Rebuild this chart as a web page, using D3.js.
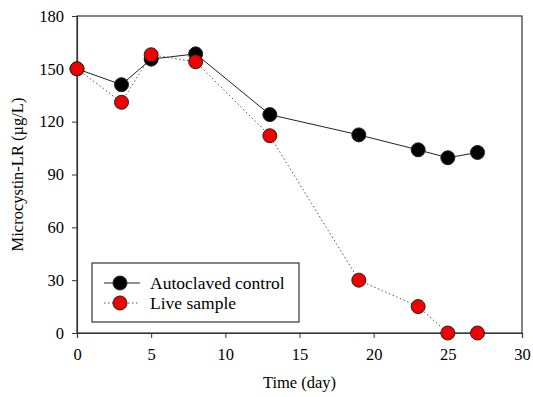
<!DOCTYPE html>
<html>
<head>
<meta charset="utf-8">
<script src="https://cdn.jsdelivr.net/npm/d3@7"></script>
<style>
  body { margin: 0; background: #fff; }
</style>
</head>
<body>
<svg id="chart" width="533" height="397"></svg>
<script>
const days = [0, 3, 5, 8, 13, 19, 23, 25, 27];
const autoclaved = [150, 141, 155.5, 158.5, 124, 112.5, 104, 99.5, 102.5];
const live = [150, 131, 158, 154, 112, 30, 15, 0, 0];
const xTicks = [0, 5, 10, 15, 20, 25, 30];
const yTicks = [0, 30, 60, 90, 120, 150, 180];

const serif = "'Liberation Serif', 'Times New Roman', serif";
const svg = d3.select("#chart").attr("font-family", serif);
const margin = { top: 16, right: 11, bottom: 64, left: 77 };
const width = 533 - margin.left - margin.right;
const height = 397 - margin.top - margin.bottom;

const g = svg.append("g").attr("transform", `translate(${margin.left},${margin.top})`);

const x = d3.scaleLinear().domain([0, 30]).range([0, width]);
const y = d3.scaleLinear().domain([0, 180]).range([height, 0]);

// frame
g.append("rect")
    .attr("width", width).attr("height", height)
    .attr("fill", "none").attr("stroke", "#333").attr("stroke-width", 1.2);

const xAxis = g.append("g")
    .attr("transform", `translate(0,${height})`)
    .call(d3.axisBottom(x).tickValues(xTicks).tickSize(5).tickPadding(10));
const yAxis = g.append("g")
    .call(d3.axisLeft(y).tickValues(yTicks).tickSize(5).tickPadding(8));
[xAxis, yAxis].forEach(a => {
    a.attr("font-family", serif).attr("font-size", 16.5);
    a.select(".domain").attr("stroke", "#333").attr("stroke-width", 1.2);
    a.selectAll(".tick line").attr("stroke", "#333");
    a.selectAll("text").attr("fill", "#000");
});

svg.append("text")
    .attr("x", margin.left + width / 2).attr("y", 388)
    .attr("text-anchor", "middle").attr("font-size", 16.5)
    .text("Time (day)");
svg.append("text")
    .attr("transform", `translate(23,${margin.top + height / 2}) rotate(-90)`)
    .attr("text-anchor", "middle").attr("font-size", 16.5)
    .text("Microcystin-LR (µg/L)");

const series = [
    { name: "Autoclaved control", values: autoclaved, color: "#000", dash: null, stroke: "#222" },
    { name: "Live sample", values: live, color: "#f00000", dash: "1.5,2.5", stroke: "#555" }
];

const line = d3.line().x((d, i) => x(days[i])).y(d => y(d));

series.slice().reverse().forEach(s => {
    g.append("path")
        .datum(s.values)
        .attr("fill", "none")
        .attr("stroke", s.stroke)
        .attr("stroke-width", 1)
        .attr("stroke-dasharray", s.dash)
        .attr("d", line);
});
series.forEach(s => {
    g.selectAll(null)
        .data(s.values)
        .join("circle")
        .attr("cx", (d, i) => x(days[i]))
        .attr("cy", d => y(d))
        .attr("r", 7)
        .attr("fill", s.color)
        .attr("stroke", "#222")
        .attr("stroke-width", 1);
});

// legend
const lg = svg.append("g").attr("transform", "translate(92,263)");
lg.append("rect")
    .attr("width", 207).attr("height", 59)
    .attr("fill", "#fff").attr("stroke", "#333").attr("stroke-width", 1.2);
series.forEach((s, i) => {
    const cy = 20 + i * 20;
    lg.append("line")
        .attr("x1", 12).attr("x2", 48).attr("y1", cy).attr("y2", cy)
        .attr("stroke", s.stroke).attr("stroke-dasharray", s.dash);
    lg.append("circle")
        .attr("cx", 28).attr("cy", cy).attr("r", 7)
        .attr("fill", s.color).attr("stroke", "#222");
    lg.append("text")
        .attr("x", 58).attr("y", cy + 5.5)
        .attr("font-size", 17.5)
        .text(s.name);
});
</script>
</body>
</html>
